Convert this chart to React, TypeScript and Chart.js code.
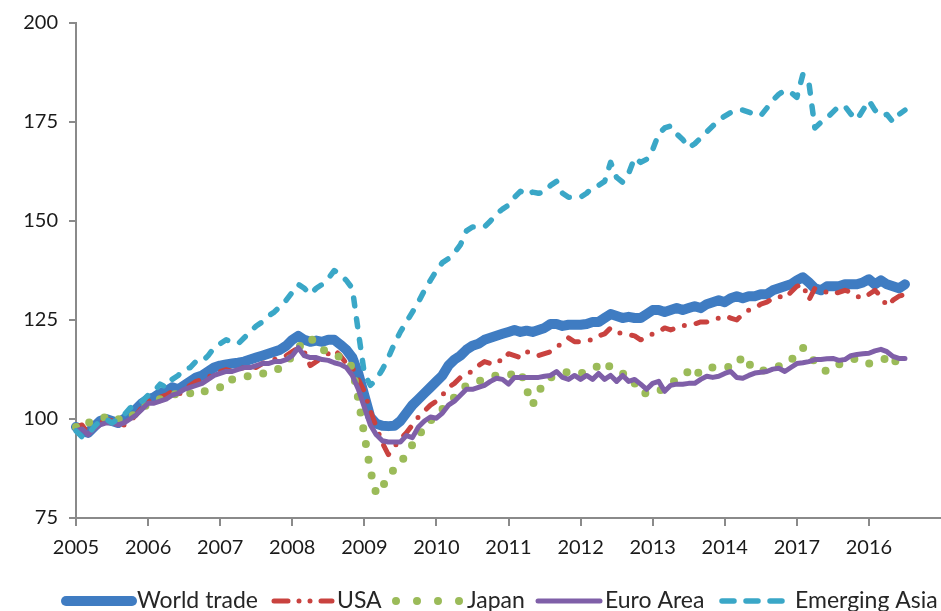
import React, { useEffect, useRef } from "react";
import { Chart, registerables } from "chart.js";

Chart.register(...registerables);

// Year labels exactly as printed on the reference x axis
const yearLabels = ["2005", "2006", "2007", "2008", "2009", "2010", "2011", "2012", "2013", "2014", "2017", "2016"];

// Monthly category slots: Jan 2005 .. Jan 2017 (data ends Jul 2016)
const monthSlots: string[] = [];
for (let y = 0; y < 12; y++) {
  for (let m = 1; m <= 12; m++) monthSlots.push(`${2005 + y}-${String(m).padStart(2, "0")}`);
}
monthSlots.push("2017-01");

const worldTrade = [
  98, 97, 96.5, 98, 99.5, 100, 99.5, 99, 100, 101, 102.5, 104,
  105, 105.5, 106.5, 107, 108, 107.5, 108.5, 109.5, 110.5, 111, 112, 113,
  113.5, 113.8, 114, 114.2, 114.5, 115, 115.5, 116, 116.5, 117, 117.5, 118.5,
  120, 121, 120, 119.5, 119.8, 119.5, 120, 120, 118.8, 117.5, 115.5, 111.5,
  106, 100.5, 98.8, 98.3, 98.2, 98.3, 99.5, 101.5, 103.5, 105, 106.5, 108,
  109.5, 111, 113.5, 115, 116, 117.5, 118.5, 119, 120, 120.5, 121, 121.5,
  122, 122.5, 122, 122.3, 122, 122.5, 123, 124, 124, 123.5, 123.8, 123.8,
  123.8, 124, 124.5, 124.5, 125.5, 126.5, 126, 125.5, 125.8, 125.5, 125.5, 126.5,
  127.5, 127.5, 127, 127.5, 128, 127.5, 128, 128.5, 128, 129, 129.5, 130,
  129.5, 130.5, 131, 130.5, 131, 131, 131.5, 131.5, 132.5, 133, 133.5, 134,
  135, 135.8, 134.5, 133, 132.5, 133.5, 133.5, 133.5, 134, 134, 134, 134.5,
  135.3, 134, 135, 134, 133.5, 133, 134,
];

const usa = [
  98, 98.5, 96.5, 98, 99, 100, 99.5, 99, 98.5, 99.5, 101, 103,
  104.5, 105, 105.5, 106, 107, 106, 107.5, 108.5, 109.5, 110, 110.5, 111.5,
  112, 112.5, 112, 112.5, 113, 113.5, 113, 114, 114.5, 115, 115.5, 116,
  117, 118, 117, 113.5, 114.5, 115.5, 116.5, 117.5, 116, 114, 113, 110,
  107, 102, 98, 94, 91, 93, 95, 96.5, 98.5, 100.5, 102, 103.5,
  104.5, 106, 108, 109, 110.5, 111.5, 112, 113.5, 114.5, 114, 115, 114.5,
  116.5, 116, 115.5, 117, 116.5, 116, 116.5, 117, 118, 119.5, 120.5, 119.5,
  119.5, 119.8, 120, 121, 121.5, 123, 122, 121.5, 121.3, 121, 120, 120.5,
  121.5, 122, 123, 122.5, 123, 123.5, 124, 124, 124.5, 124.5, 125, 125.5,
  126, 125.5, 125, 126.5, 127.5, 128, 129, 129.5, 130.5, 131, 130.5, 132,
  133.5, 134, 130, 133, 132.5, 132, 131.5, 132, 132.5, 132, 131, 130.5,
  131.5, 132.5, 131, 128.5, 130, 131, 131.5,
];

const japan = [
  98, 97.5, 99, 99.5, 100, 100.5, 99.5, 100, 99.5, 100.5, 101.5, 102.5,
  104, 104.5, 105, 105.5, 106, 106.5, 107, 106.5, 106, 107, 107, 107.5,
  108, 110, 110, 110, 110.5, 111, 111.5, 111.5, 111.5, 112, 113, 114,
  116, 118, 119.5, 120.5, 119, 117.5, 117, 116.5, 115.5, 115, 113, 105,
  96, 87, 81, 83, 85, 87.5, 89, 91, 93.5, 96, 97.5, 99.5,
  101.5, 102.5, 104, 105.5, 107, 108.5, 109, 109.5, 110, 110.5, 111, 111,
  111, 111.5, 112, 107.5, 103.5, 107, 109, 110.5, 111, 111.5, 112, 112,
  111.5, 112, 112.5, 113.5, 114.5, 113, 112, 111.5, 111, 109, 106.5, 106.5,
  107, 107, 108, 109, 110, 111, 112, 110.5, 112.5, 113, 113, 113.3,
  113.3, 113, 113.5, 116, 114, 112.5, 112, 112.5, 113, 113.3, 114, 114.6,
  117, 118, 116, 114.5, 113, 112, 113, 113.8, 114.5, 115, 115.3, 114.5,
  114, 114.5, 115, 115.3, 113.6, 116, 117.6,
];

const euroArea = [
  97, 97.5, 96, 97.5, 98.5, 99, 99, 98.5, 99, 100, 101, 102.5,
  104, 104, 104.5, 105, 106, 106.5, 107.5, 108, 108.5, 109, 110, 111,
  111.5, 112, 112, 112.5, 113, 113, 113.5, 114, 114, 114.5, 114.5, 115,
  116, 118, 116, 115.5, 115.5, 115, 114.8, 114.2, 113.8, 113, 111, 107.5,
  103, 98.5, 96, 94.5, 94.2, 94.2, 94.2, 95.8, 95.3, 98, 99.5, 100.5,
  100.2, 101.5, 103.5, 104.5, 106, 107.5, 107.5, 108, 108.5, 109.5, 110.3, 110,
  108.8, 110.5, 110.5, 110.5, 110.5, 110.5, 110.8, 111, 112, 110.5, 110, 111,
  110, 111, 110, 111.5, 110, 111, 109.5, 111, 109.5, 110, 108.8, 107.5,
  109, 109.5, 107, 108.5, 108.8, 108.8, 109, 109, 110, 110.8, 110.5, 110.8,
  111.5, 112, 110.5, 110.3, 111, 111.6, 111.8, 112, 112.6, 112.8, 112, 113,
  114, 114.2, 114.5, 115, 115, 115.2, 115.3, 114.8, 115, 116, 116.3, 116.5,
  116.6, 117.2, 117.6, 117, 115.8, 115.3, 115.3,
];

const emergingAsia = [
  97, 95.5, 96, 98, 99.5, 100, 99, 100, 101, 102.8, 103.5, 104.5,
  106, 107, 108.8, 108, 110, 111, 112.5, 113, 114.6, 114.5, 116, 118,
  119, 120, 119.5, 119, 120.5, 122, 123.5, 124.5, 126, 127, 128.5, 130,
  132, 134, 133, 131.5, 133, 134, 135.5, 137.5, 136.5, 135, 133, 122,
  111.5, 108.5, 110, 112.5, 115.5, 119, 122, 124.5, 127, 129.5, 132.5, 135,
  137.5, 139.5, 140.5, 142, 144, 147.5, 148.5, 148.5, 148.5, 150, 151.8, 153,
  154, 156, 157.5, 156.5, 157.3, 157, 157.3, 159, 160, 157, 156, 156,
  156, 157, 158.5, 159, 160, 164.8, 161, 159.8, 162, 166, 164.8, 165.6,
  168, 172, 173.5, 174, 172, 170.6, 168.5, 169.5, 171, 172.5, 174, 175.4,
  176.5, 177.4, 178, 178, 177.5, 177, 176.6, 178.5, 180.5, 182, 183, 182.5,
  181.2, 187, 185, 173.5, 174.9, 176, 177.5, 179, 179, 177, 175.6, 178,
  180.4, 178, 176.6, 176.9, 175, 176.9, 178,
];

const yTicks = [75, 100, 125, 150, 175, 200];

const FONT = "Lato, 'Open Sans', sans-serif";

type SeriesStyle = {
  label: string;
  data: number[];
  color: string;
  width: number;
  dash: number[];
  legendDash: number[];
  cap: CanvasLineCap;
  legendX: [number, number];
};

const series: SeriesStyle[] = [
  { label: "World trade", data: worldTrade, color: "#3f7cc2", width: 10, dash: [], legendDash: [], cap: "round", legendX: [66, 132] },
  { label: "USA", data: usa, color: "#c9423f", width: 5, dash: [11, 12, 0, 12], legendDash: [14, 11, 0, 11, 0, 11], cap: "round", legendX: [274, 332] },
  { label: "Japan", data: japan, color: "#9bbb59", width: 8, dash: [0, 16], legendDash: [0, 21], cap: "round", legendX: [396, 462] },
  { label: "Euro Area", data: euroArea, color: "#7f5fa8", width: 5, dash: [], legendDash: [], cap: "round", legendX: [538, 600] },
  { label: "Emerging Asia", data: emergingAsia, color: "#3aa7c7", width: 5.5, dash: [8, 13], legendDash: [12, 12], cap: "round", legendX: [722, 790] },
];

const legendPlugin = {
  id: "excelLegend",
  afterDraw(chart: any) {
    const ctx: CanvasRenderingContext2D = chart.ctx;
    const y = 601;
    ctx.save();
    ctx.font = `23px ${FONT}`;
    ctx.textBaseline = "middle";
    ctx.textAlign = "left";
    series.forEach((s) => {
      ctx.beginPath();
      ctx.strokeStyle = s.color;
      ctx.lineWidth = s.width;
      ctx.lineCap = s.cap;
      ctx.setLineDash(s.legendDash);
      ctx.moveTo(s.legendX[0], y);
      ctx.lineTo(s.legendX[1], y);
      ctx.stroke();
      ctx.setLineDash([]);
      ctx.fillStyle = "#262626";
      ctx.fillText(s.label, s.legendX[1] + 5, y);
    });
    ctx.restore();
  },
};

export default function App() {
  const canvasRef = useRef<HTMLCanvasElement | null>(null);

  useEffect(() => {
    if (!canvasRef.current) return;
    const chart = new Chart(canvasRef.current, {
      type: "line",
      data: {
        labels: monthSlots,
        datasets: series.map((s, i) => ({
          label: s.label,
          data: s.data,
          borderColor: s.color,
          backgroundColor: s.color,
          borderWidth: s.width,
          borderDash: s.dash,
          borderCapStyle: s.cap,
          borderJoinStyle: "round",
          pointRadius: 0,
          pointHoverRadius: 0,
          tension: 0,
          fill: false,
          order: series.length - i,
        })),
      },
      options: {
        animation: false,
        responsive: false,
        devicePixelRatio: 1,
        layout: { padding: { top: 15, right: 0, bottom: 0, left: 0 } },
        plugins: { legend: { display: false }, tooltip: { enabled: false } },
        scales: {
          x: {
            type: "category",
            offset: false,
            grid: {
              display: true,
              drawOnChartArea: false,
              drawTicks: true,
              tickLength: 8,
              color: "#8a8a8a",
              lineWidth: 2,
              offset: false,
            },
            border: { display: true, color: "#8a8a8a", width: 2 },
            ticks: {
              autoSkip: false,
              maxRotation: 0,
              minRotation: 0,
              padding: 10,
              color: "#1a1a1a",
              font: { family: FONT, size: 20 },
              callback: (_v: any, idx: number) => (idx % 12 === 0 && idx / 12 < yearLabels.length ? yearLabels[idx / 12] : null),
            },
            afterFit: (scale: any) => {
              scale.height = 93;
            },
          },
          y: {
            type: "linear",
            min: 75,
            max: 200,
            afterBuildTicks: (scale: any) => {
              scale.ticks = yTicks.map((v) => ({ value: v }));
            },
            grid: {
              display: true,
              drawOnChartArea: false,
              drawTicks: true,
              tickLength: 7,
              color: "#8a8a8a",
              lineWidth: 2,
            },
            border: { display: true, color: "#8a8a8a", width: 2 },
            ticks: {
              padding: 11,
              color: "#1a1a1a",
              font: { family: FONT, size: 20 },
            },
            afterFit: (scale: any) => {
              scale.width = 76;
            },
          },
        },
      },
      plugins: [legendPlugin],
    });
    return () => chart.destroy();
  }, []);

  return (
    <div style={{ position: "absolute", left: 0, top: 0, width: 941, height: 611, background: "#fff" }}>
      <canvas ref={canvasRef} width={941} height={611} style={{ display: "block" }} />
    </div>
  );
}
